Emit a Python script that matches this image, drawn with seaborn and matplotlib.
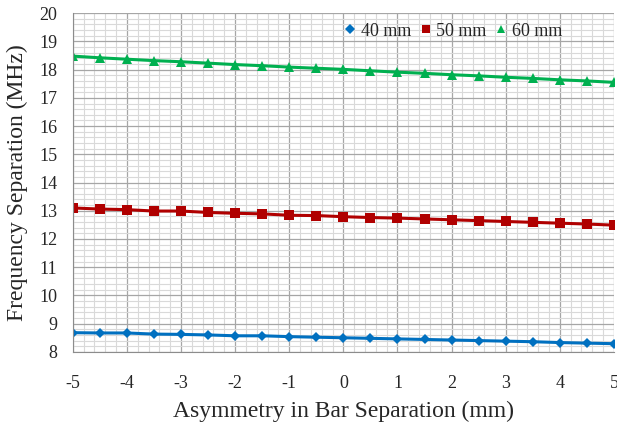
import numpy as np
import pandas as pd
import matplotlib
matplotlib.use('Agg')
import matplotlib.pyplot as plt
from matplotlib.ticker import MultipleLocator
import seaborn as sns

# datos
asimetria = [-5, -4.5, -4, -3.5, -3, -2.5, -2, -1.5, -1, -0.5, 0,
             0.5, 1, 1.5, 2, 2.5, 3, 3.5, 4, 4.5, 5]
f_40mm = [8.68, 8.67, 8.67, 8.63, 8.62, 8.60, 8.57, 8.57, 8.54, 8.52, 8.50,
          8.48, 8.46, 8.44, 8.42, 8.40, 8.38, 8.36, 8.33, 8.31, 8.29]
f_50mm = [13.10, 13.06, 13.04, 12.99, 12.99, 12.94, 12.91, 12.89, 12.84, 12.83, 12.79,
          12.76, 12.74, 12.71, 12.68, 12.65, 12.62, 12.59, 12.56, 12.53, 12.49]
f_60mm = [18.48, 18.42, 18.37, 18.32, 18.28, 18.23, 18.18, 18.14, 18.09, 18.05, 18.01,
          17.96, 17.91, 17.87, 17.82, 17.78, 17.73, 17.69, 17.64, 17.60, 17.55]
series = ['40 mm', '50 mm', '60 mm']

df = pd.DataFrame({'x': asimetria * 3,
                   'y': f_40mm + f_50mm + f_60mm,
                   'serie': np.repeat(series, len(asimetria))})

sns.set_style('white')
plt.rcParams['font.family'] = ['Liberation Serif', 'DejaVu Serif']
plt.rcParams['axes.unicode_minus'] = False

fig = plt.figure(figsize=(6.17, 4.26), dpi=100)
ax = fig.add_axes([0.118, 0.174, 0.877, 0.795])

colores = {'40 mm': '#0070C0', '50 mm': '#B00000', '60 mm': '#00B050'}
marcadores = {'40 mm': 'D', '50 mm': 's', '60 mm': '^'}
tamanos = {'40 mm': 5.5, '50 mm': 6.5, '60 mm': 6.5}

for s in series:
    sub = df[df['serie'] == s]
    sns.lineplot(data=sub, x='x', y='y', color=colores[s], marker=marcadores[s],
                 markersize=tamanos[s], markeredgewidth=0, linewidth=2.2,
                 label=s, ax=ax)

ax.set_xlim(-5, 5)
ax.set_ylim(8, 20)
ax.xaxis.set_major_locator(MultipleLocator(1))
ax.yaxis.set_major_locator(MultipleLocator(1))
ax.xaxis.set_minor_locator(MultipleLocator(0.2))
ax.yaxis.set_minor_locator(MultipleLocator(0.2))
ax.grid(which='major', color='#a6a6a6', linewidth=0.9)
ax.grid(which='minor', color='#d9d9d9', linewidth=0.8)
ax.set_axisbelow(True)

for lado in ['top', 'right']:
    ax.spines[lado].set_visible(False)
ax.spines['left'].set_color('#8c8c8c')
ax.spines['bottom'].set_color('#8c8c8c')
ax.tick_params(axis='both', which='major', labelsize=13, length=5, color='#8c8c8c',
               direction='out', pad=6)
ax.tick_params(axis='both', which='minor', length=0)
ax.tick_params(axis='x', pad=12)

ax.set_xlabel('Asymmetry in Bar Separation (mm)', fontsize=17, labelpad=6)
ax.set_ylabel('Frequency Separation (MHz)', fontsize=17, labelpad=8)

ax.legend(loc='upper left', bbox_to_anchor=(0.472, 1.02), ncol=3, frameon=False,
          fontsize=13, handlelength=0.6, handletextpad=0.3, columnspacing=0.5,
          markerscale=0.85)
for h in ax.get_legend().get_lines():
    h.set_linestyle('none')

plt.savefig('out.png', dpi=100)
plt.close()
